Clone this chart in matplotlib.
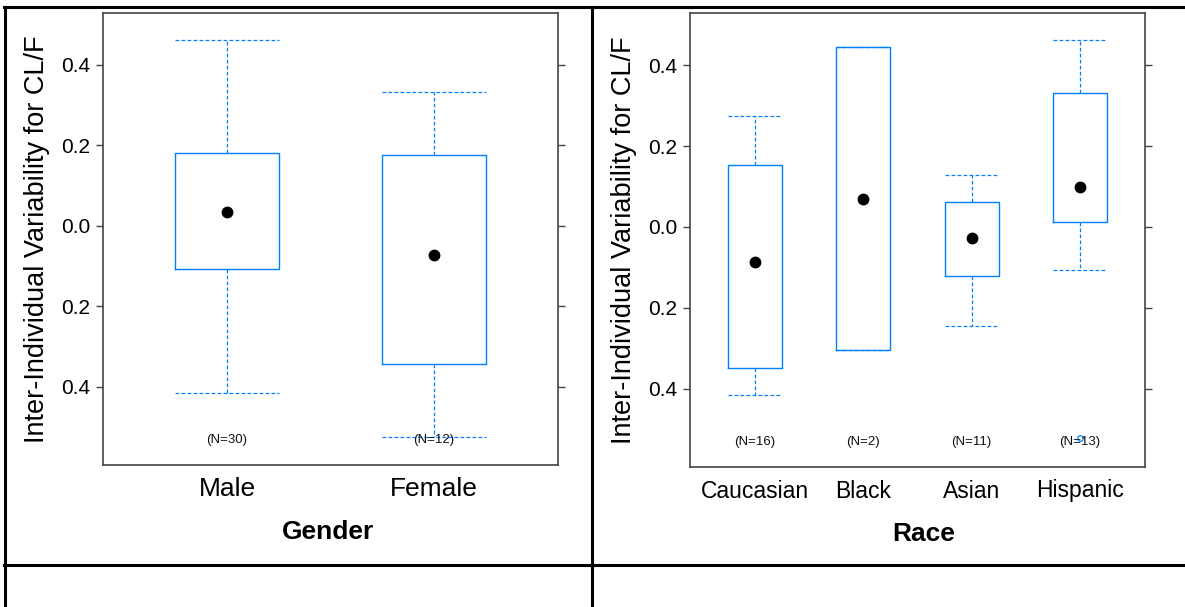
import matplotlib
matplotlib.use("Agg")
import matplotlib.pyplot as plt
from matplotlib.lines import Line2D

plt.rcParams['font.family'] = ['Liberation Sans', 'DejaVu Sans']

# ---------------- data ----------------
ylabel_text = "Inter-Individual Variability for CL/F"
ytick_vals = [-0.4, -0.2, 0.0, 0.2, 0.4]
ytick_labels = ["0.4", "0.2", "0.0", "0.2", "0.4"]

gender_cats = ["Male", "Female"]
gender_n = ["(N=30)", "(N=12)"]
gender_whislo = [-0.415, -0.524]
gender_q1 = [-0.107, -0.343]
gender_med = [0.035, -0.072]
gender_q3 = [0.181, 0.176]
gender_whishi = [0.462, 0.333]
gender_fliers = [[], []]

race_cats = ["Caucasian", "Black", "Asian", "Hispanic"]
race_n = ["(N=16)", "(N=2)", "(N=11)", "(N=13)"]
race_whislo = [-0.415, -0.304, -0.244, -0.106]
race_q1 = [-0.348, -0.304, -0.121, 0.012]
race_med = [-0.087, 0.069, -0.027, 0.099]
race_q3 = [0.153, 0.444, 0.062, 0.331]
race_whishi = [0.274, 0.444, 0.128, 0.462]
race_fliers = [[], [], [], [-0.523]]

BLUE = "#0080ff"
W, H = 1185, 607

fig = plt.figure(figsize=(W / 100, H / 100), dpi=100)


def panel(rect, cats, nlab, lo, q1, med, q3, hi, fl, xlabel, tickfs, xlab_x):
    ax = fig.add_axes(rect)
    stats = []
    for i in range(len(cats)):
        stats.append(dict(med=med[i], q1=q1[i], q3=q3[i], whislo=lo[i],
                          whishi=hi[i], fliers=fl[i], label=cats[i]))
    pos = list(range(1, len(cats) + 1))
    dash = (0, (3.0, 1.8))
    ax.bxp(stats, positions=pos, widths=0.5, capwidths=0.5,
           boxprops=dict(color=BLUE, lw=1.0),
           whiskerprops=dict(color=BLUE, lw=0.9, linestyle=dash),
           capprops=dict(color=BLUE, lw=0.9, linestyle=dash),
           medianprops=dict(visible=False),
           flierprops=dict(marker='o', markersize=4, markerfacecolor='none',
                           markeredgecolor=BLUE, markeredgewidth=0.9),
           manage_ticks=False)
    ax.plot(pos, med, 'o', color='black', markersize=7.5, zorder=5)
    for p, t in zip(pos, nlab):
        ax.text(p, 0.056, t, transform=ax.get_xaxis_transform(),
                ha='center', va='center', fontsize=9.5, color='#111111')
    ax.set_xlim(0.4, len(cats) + 0.6)
    ax.set_ylim(-0.594, 0.529)
    ax.set_yticks(ytick_vals)
    ax.set_yticklabels(ytick_labels, fontsize=15)
    ax.set_xticks(pos)
    ax.set_xticklabels(cats, fontsize=tickfs)
    ax.tick_params(axis='y', which='both', direction='out', length=5,
                   width=1, color='#444444', left=True, right=True, pad=4)
    ax.tick_params(axis='x', length=0, pad=9)
    for s in ax.spines.values():
        s.set_color('#444444')
        s.set_linewidth(1.2)
    ax.text(-0.145, 0.5, ylabel_text, rotation=90, transform=ax.transAxes,
            ha='center', va='center', fontsize=19.5)
    ax.text(xlab_x, -0.148, xlabel, transform=ax.transAxes, ha='center',
            va='center', fontsize=19, fontweight='bold')
    return ax


panel([103 / W, (H - 465) / H, 455 / W, 452 / H], gender_cats, gender_n,
      gender_whislo, gender_q1, gender_med, gender_q3, gender_whishi,
      gender_fliers, "Gender", 19, 0.495)
panel([690 / W, (H - 467) / H, 455 / W, 454 / H], race_cats, race_n,
      race_whislo, race_q1, race_med, race_q3, race_whishi,
      race_fliers, "Race", 16.5, 0.514)

# table grid lines
def fline(x0, y0, x1, y1):
    fig.add_artist(Line2D([x0 / W, x1 / W], [1 - y0 / H, 1 - y1 / H],
                          color='black', lw=2.2, transform=fig.transFigure))

fline(4, 7, W, 7)
fline(4.5, 7, 4.5, H)
fline(592, 7, 592, H)
fline(4, 565, W, 565)

fig.savefig("out.png", dpi=100)
